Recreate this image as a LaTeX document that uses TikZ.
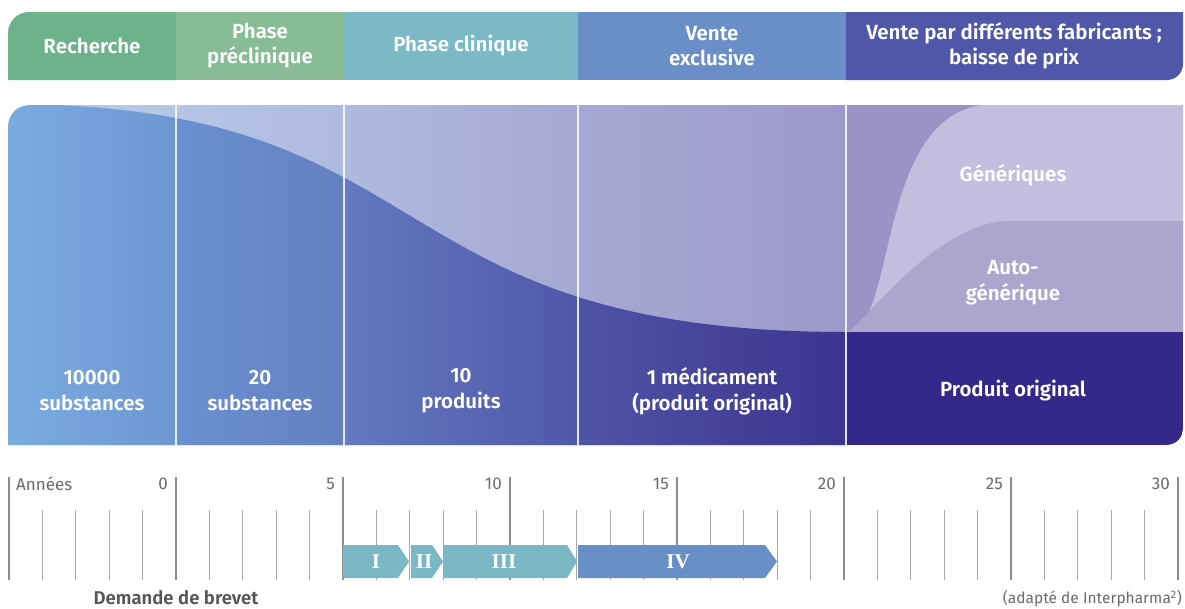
\documentclass[tikz,border=0pt]{standalone}
\usepackage{fontspec}
\setmainfont{Fira Sans}[BoldFont={Fira Sans SemiBold}]
\newfontfamily\romfont{Liberation Serif}
\definecolor{hA}{HTML}{6CB28A}
\definecolor{hB}{HTML}{87BC95}
\definecolor{hC}{HTML}{7BB9C7}
\definecolor{hD}{HTML}{6A8FC8}
\definecolor{hE}{HTML}{4E57A8}
\definecolor{upA}{HTML}{BACBEA}
\definecolor{upB}{HTML}{B5C5E6}
\definecolor{upC}{HTML}{AFBADF}
\definecolor{upD}{HTML}{A6A8D3}
\definecolor{upE}{HTML}{9D99CA}
\definecolor{loA}{HTML}{7AABE0}
\definecolor{loB}{HTML}{6E97D2}
\definecolor{loC}{HTML}{6A90CF}
\definecolor{loD}{HTML}{6480C3}
\definecolor{loE}{HTML}{6379C0}
\definecolor{loF}{HTML}{5058A9}
\definecolor{loG}{HTML}{4E54A6}
\definecolor{loH}{HTML}{3C348F}
\definecolor{prod}{HTML}{34288A}
\definecolor{cfbg}{HTML}{9A94C6}
\definecolor{gen}{HTML}{C3BEDD}
\definecolor{autog}{HTML}{ACA6CF}
\definecolor{teal}{HTML}{7AB8C5}
\definecolor{arrblue}{HTML}{6A8FC7}
\definecolor{tickgray}{HTML}{A8A8A8}
\definecolor{longgray}{HTML}{8C8C8C}
\definecolor{labgray}{HTML}{6B6B6B}
\definecolor{darkgray}{HTML}{555555}
\begin{document}
\begin{tikzpicture}[x=1pt,y=-1pt,
  htext/.style={text=white, font=\fontsize{20.5}{25}\selectfont\bfseries, align=center, inner sep=0pt},
  ctext/.style={text=white, font=\fontsize{20.5}{26}\selectfont\bfseries, align=center, inner sep=0pt},
  ylab/.style={text=labgray, font=\fontsize{17}{20}\selectfont, inner sep=0pt},
  romtext/.style={text=white, font=\fontsize{21}{22}\selectfont\romfont\bfseries, inner sep=0pt},
  divider/.style={draw=white, line width=1.3pt, draw opacity=0.85},
  shorttick/.style={draw=tickgray, line width=1pt},
  longtick/.style={draw=longgray, line width=1.1pt}]
\fill[white] (0,0) rectangle (1185,608);
\useasboundingbox (0,0) rectangle (1185,608);

% ---------- header ----------
\fill[hA] (8,80) -- (8,33) .. controls (8,21.4) and (17.4,12) .. (29,12) -- (176.5,12) -- (176.5,80) -- cycle;
\fill[hB] (176,12) rectangle (344.5,80);
\fill[hC] (344,12) rectangle (578.5,80);
\fill[hD] (578,12) rectangle (846.5,80);
\fill[hE] (846,12) -- (1183,12) -- (1183,64) .. controls (1183,72.8) and (1175.8,80) .. (1167,80) -- (846,80) -- cycle;
\node[htext] (h1) at (92,46) {Recherche};
\node[htext] (h2) at (260,46) {Phase\\préclinique};
\node[htext] (h3) at (461,46) {Phase clinique};
\node[htext] (h4) at (712,46) {Vente\\exclusive};
\node[htext] (h5) at (1014,46) {Vente par différents fabricants ;\\baisse de prix};

% ---------- chart ----------
\begin{scope}
  \path[clip] (8,445) -- (8,126) .. controls (8,114.4) and (17.4,105) .. (29,105) -- (1183,105) -- (1183,429) .. controls (1183,437.8) and (1175.8,445) .. (1167,445) -- cycle;
  % upper area
  \shade[left color=upA, right color=upB] (8,104) rectangle (176,445);
  \shade[left color=upB, right color=upC] (176,104) rectangle (344,445);
  \shade[left color=upC, right color=upD] (344,104) rectangle (578,445);
  \shade[left color=upD, right color=upE] (578,104) rectangle (846,445);
  \fill[cfbg] (846,104) rectangle (1183,332);
  \fill[gen] (846,332) .. controls (900,332) and (872,104) .. (995,104) -- (1183,104) -- (1183,332) -- cycle;
  \fill[autog] (846,332) .. controls (858,332) and (934,221) .. (1010,221) -- (1183,221) -- (1183,332) -- cycle;
  % lower area
  \begin{scope}
    \clip (8,104) .. controls (449,104) and (370,332) .. (846,332) -- (1183,332) -- (1183,445) -- (8,445) -- cycle;
    \shade[left color=loA, right color=loB] (8,104) rectangle (176,445);
    \shade[left color=loC, right color=loD] (176,104) rectangle (344,445);
    \shade[left color=loE, right color=loF] (344,104) rectangle (578,445);
    \shade[left color=loG, right color=loH] (578,104) rectangle (846,445);
    \fill[prod] (846,104) rectangle (1183,445);
  \end{scope}
\end{scope}
% corner masks (keep the rounded corners crisp)
\fill[white] (7,104) -- (29,104) -- (29,105) .. controls (17.4,105) and (8,114.4) .. (8,126) -- (7,126) -- cycle;
\fill[white] (1184,429) -- (1183,429) .. controls (1183,437.8) and (1175.8,445) .. (1167,445) -- (1167,446) -- (1184,446) -- cycle;

\coordinate (d1t) at (176,105); \coordinate (d1b) at (176,445);
\coordinate (d2t) at (344,105); \coordinate (d2b) at (344,445);
\coordinate (d3t) at (578,105); \coordinate (d3b) at (578,445);
\coordinate (d4t) at (846,105); \coordinate (d4b) at (846,445);
\draw[divider] (d1t) -- (d1b);
\draw[divider] (d2t) -- (d2b);
\draw[divider] (d3t) -- (d3b);
\draw[divider] (d4t) -- (d4b);

\node[ctext] (c1) at (92,391) {10000\\substances};
\node[ctext] (c2) at (260,391) {20\\substances};
\node[ctext] (c3) at (461,391) {10\\produits};
\node[ctext] (c4) at (712,391) {1 médicament\\(produit original)};
\node[ctext] (c5) at (1013,391) {Produit original};
\node[ctext] (c6) at (1013,175) {Génériques};
\node[ctext] (c7) at (1013,283) {Auto-\\générique};

% ---------- timeline ----------
\foreach \b in {-5,0,5,10,15,20,25} {
  \foreach \j in {1,2,3,4} {
    \draw[shorttick] ({176+33.4*(\b+\j)},510) -- ({176+33.4*(\b+\j)},580);
  }
}
\foreach \yr in {-5,0,5,10,15,20,25,30} {
  \draw[longtick] ({176+33.4*\yr},477) -- ({176+33.4*\yr},580);
}
\node[ylab, anchor=west] (lAn) at (16,484) {Années};
\foreach \yr/\nm in {0/l0,5/l5,10/l10,15/l15,20/l20,25/l25,30/l30} {
  \node[ylab, anchor=east] (\nm) at ({176+33.4*\yr-8},484) {\yr};
}

% phase arrows
\fill[teal] (343,545) -- (398,545) -- (409,561.5) -- (398,578) -- (343,578) -- cycle;
\fill[teal] (411,545) -- (432,545) -- (443,561.5) -- (432,578) -- (411,578) -- cycle;
\fill[teal] (444,545) -- (567,545) -- (577,561.5) -- (567,578) -- (444,578) -- cycle;
\fill[arrblue] (578,545) -- (765,545) -- (777,561.5) -- (765,578) -- (578,578) -- cycle;
\node[romtext] (pI) at (376,562) {I};
\node[romtext] (pII) at (424,562) {II};
\node[romtext] (pIII) at (504,562) {III};
\node[romtext] (pIV) at (678,562) {IV};

\node[text=darkgray, font=\fontsize{18.5}{22}\selectfont\bfseries, inner sep=0pt] (brev) at (176,598) {Demande de brevet};
\node[text=labgray, font=\fontsize{15.5}{18}\selectfont, inner sep=0pt, anchor=east] (src) at (1182,599) {(adapté de Interpharma\textsuperscript{2})};
\end{tikzpicture}
\end{document}
